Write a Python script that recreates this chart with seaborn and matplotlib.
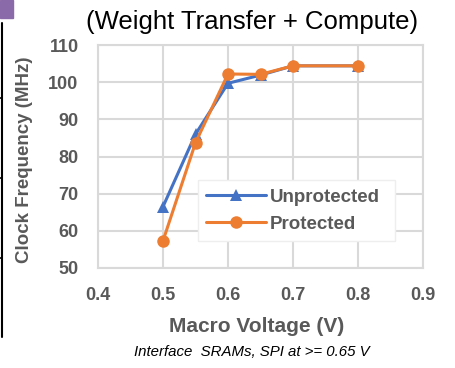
import matplotlib
matplotlib.use("Agg")
import matplotlib.pyplot as plt
import seaborn as sns
import pandas as pd
from matplotlib.lines import Line2D
from matplotlib.patches import Rectangle

voltage = [0.5, 0.55, 0.6, 0.65, 0.7, 0.8]
unprotected = [66.5, 86.0, 99.7, 101.9, 104.4, 104.4]
protected = [57.3, 83.7, 102.2, 102.1, 104.4, 104.4]
series_names = ["Unprotected", "Protected"]
x_ticks = [0.4, 0.5, 0.6, 0.7, 0.8, 0.9]
y_ticks = [50, 60, 70, 80, 90, 100, 110]

df = pd.DataFrame({
    "Voltage": voltage * 2,
    "Freq": unprotected + protected,
    "Series": [series_names[0]] * len(voltage) + [series_names[1]] * len(voltage),
})

sns.set_theme(style="white")
plt.rcParams["font.family"] = ["Liberation Sans", "DejaVu Sans"]

fig = plt.figure(figsize=(4.55, 3.68), dpi=100)
ax = fig.add_axes([98/455, 1-268/368, (423-98)/455, (268-45)/368])

palette = {"Unprotected": "#4472C4", "Protected": "#ED7D31"}
markers = {"Unprotected": "^", "Protected": "o"}
sns.lineplot(data=df, x="Voltage", y="Freq", hue="Series", style="Series",
             palette=palette, markers=markers, dashes=False, linewidth=2.2,
             markersize=9, markeredgewidth=0, ax=ax, legend=False, sort=False)

ax.set_xlim(0.4, 0.9)
ax.set_ylim(50, 110)
ax.set_xticks(x_ticks)
ax.set_yticks(y_ticks)
ax.set_xticklabels([f"{v:.1f}" for v in x_ticks])
ax.grid(True, color="#d9d9d9", linewidth=1.5)
ax.set_axisbelow(True)
for s in ax.spines.values():
    s.set_color("#d9d9d9")
    s.set_linewidth(1.5)
ax.tick_params(axis="x", length=5, width=1.2, color="#d9d9d9", pad=9,
               labelsize=13, labelcolor="#595959")
ax.tick_params(axis="y", length=0, pad=14, labelsize=13, labelcolor="#595959")
for lab in ax.get_xticklabels() + ax.get_yticklabels():
    lab.set_fontweight("bold")

ax.set_xlabel("Macro Voltage (V)", fontsize=15, fontweight="bold", color="#595959")
ax.set_ylabel("Clock Frequency (MHz)", fontsize=13.5, fontweight="bold", color="#595959")
ax.xaxis.set_label_coords((257-98)/325, (268-327)/223)
ax.yaxis.set_label_coords((25-98)/325, (268-160)/223)
ax.yaxis.label.set_va("center")
ax.xaxis.label.set_va("center")

fig.text(252/455, 1-22/368, "(Weight Transfer + Compute)", ha="center", va="center",
         fontsize=18.5, color="black")
fig.text(252/455, 1-352/368, "Interface  SRAMs, SPI at >= 0.65 V", ha="center", va="center",
         fontsize=10.8, style="italic", color="black")

handles = [Line2D([0], [0], color=palette[n], marker=markers[n], linewidth=2.2,
                  markersize=9, markeredgewidth=0) for n in series_names]
leg = ax.legend(handles, series_names, loc="upper left",
                bbox_to_anchor=((198-98)/325, (268-180)/223, (395-198)/325, 0),
                mode="expand", frameon=True, fancybox=False, framealpha=1,
                edgecolor="#eeeeee", handlelength=3.2, handletextpad=0.2,
                borderpad=0.45, labelspacing=0.55, borderaxespad=0,
                prop={"size": 13.5, "weight": "bold"})
for t in leg.get_texts():
    t.set_color("#595959")

# slide crop artifacts at the left edge
fig.add_artist(Line2D([2/455, 2/455], [1-23/368, 1-337/368], color="black", linewidth=1.5))
for yy in [98, 178, 258]:
    fig.add_artist(Line2D([0, 2/455], [1-yy/368, 1-yy/368], color="black", linewidth=1.2))
fig.add_artist(Rectangle((0, 1-18/368), 13/455, 18/368, color="#8a6aa8", transform=fig.transFigure))

fig.savefig("out.png", dpi=100)
